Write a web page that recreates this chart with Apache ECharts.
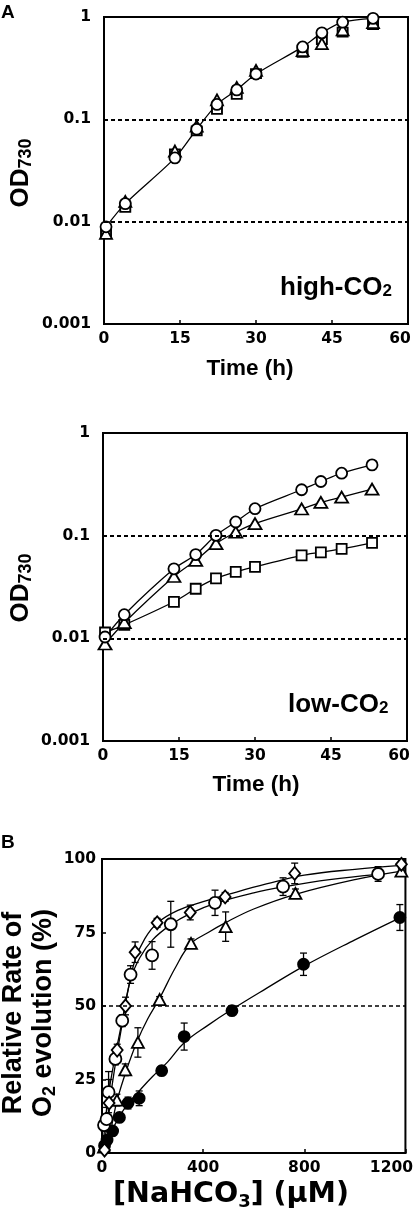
<!DOCTYPE html>
<html><head><meta charset="utf-8">
<script src="https://cdn.jsdelivr.net/npm/echarts@6/dist/echarts.min.js"></script>
<style>html,body{margin:0;padding:0;background:#fff}#c{width:416px;height:1217px}</style>
</head><body><div id="c"></div>
<script>
// ---------- Panel A data (OD730 vs time) ----------
const timeH = [0.4, 4.2, 14, 18.3, 22.3, 26.2, 30, 39.2, 43, 47.1, 53.1];
const highCircle   = [0.0089, 0.0150, 0.042, 0.080, 0.140, 0.194, 0.277, 0.51, 0.70, 0.89, 0.97];
const highTriangle = [0.0077, 0.0158, 0.049, 0.086, 0.155, 0.205, 0.300, 0.47, 0.55, 0.75, 0.88];
const highSquare   = [0.0077, 0.0138, 0.046, 0.077, 0.125, 0.175, 0.280, 0.45, 0.60, 0.71, 0.84];
const lowCircle    = [0.0103, 0.0170, 0.0475, 0.0654, 0.1007, 0.136, 0.183, 0.280, 0.337, 0.406, 0.489];
const lowTriangle  = [0.0088, 0.0142, 0.0400, 0.0575, 0.0836, 0.108, 0.131, 0.182, 0.211, 0.237, 0.284];
const lowSquare    = [0.0114, 0.0135, 0.0227, 0.0304, 0.0383, 0.0444, 0.0497, 0.0644, 0.0689, 0.0743, 0.085];
const odTicks      = [0.001, 0.01, 0.1, 1];
const odTickLabels = ['0.001', '0.01', '0.1', '1'];
const odRefLines   = [0.01, 0.1];

// ---------- Panel B data (relative O2 evolution vs [NaHCO3]) ----------
const diaX   = [10, 28, 60, 93, 131, 218, 349, 487, 762, 1184];
const diaY   = [1, 17, 35, 50, 68.3, 78.3, 81.8, 87.1, 95.1, 98.2];
const diaErr = [0, 8, 2, 3, 3.5, 1.5, 2.5, 1.5, 3.5, 1.5];
const ociX   = [8, 18, 26, 53, 80, 113, 198, 272, 447, 716, 1092];
const ociY   = [9.5, 11.5, 20.7, 32, 45, 60.7, 67.2, 77.8, 85.1, 90.6, 94.9];
const ociErr = [2, 4, 7, 2, 2, 3, 4.7, 7.8, 4.3, 3, 2.5];
const triX   = [8, 59, 92, 142, 228, 352, 489, 765, 1184];
const triY   = [2, 18, 28.3, 37.6, 52.2, 71.3, 77, 88.3, 95.9];
const triErr = [0, 2, 2, 5, 1, 1.5, 5, 1.5, 1.5];
const fciX   = [10, 20, 42, 69, 103, 147, 236, 325, 514, 797, 1178];
const fciY   = [2.5, 4.4, 7.5, 12.1, 17, 18.6, 28, 39.6, 48.4, 64.2, 80.1];
const fciErr = [0, 1, 1, 1.5, 2, 2.5, 1.5, 4.6, 1, 3.8, 4.4];
// fitted curves
const diaFitX = [5, 20, 40, 60, 80, 100, 130, 170, 220, 300, 400, 500, 650, 800, 1000, 1184];
const diaFitY = [0, 10, 23, 34, 44, 54, 65.5, 73, 78.3, 82.5, 85.5, 88, 91.5, 94.5, 96.5, 97.8];
const ociFitX = [3, 10, 26, 50, 80, 113, 150, 200, 270, 350, 450, 600, 716, 900, 1092];
const ociFitY = [0, 8, 20, 32, 45, 59, 66.5, 72.5, 77.5, 81.5, 85, 88.5, 90.5, 93, 94.8];
const triFitX = [15, 40, 60, 96, 139, 180, 227, 290, 349, 420, 485, 600, 765, 1000, 1184];
const triFitY = [0, 10, 18, 28, 38, 45.5, 52.5, 63, 71, 75, 78.2, 83, 88, 93, 95.9];
const fciFitX = [4, 20, 50, 100, 146, 200, 260, 325, 420, 513, 650, 797, 1000, 1178];
const fciFitY = [0, 4.5, 9.5, 16.5, 21, 26, 31, 37.5, 43.5, 48.8, 56, 63.5, 72.5, 80];
const rateRefLine = 50;

const AR = '"Liberation Sans", Arial, Helvetica, sans-serif';
const DV = '"DejaVu Sans", sans-serif';
const zip = (a, b) => a.map((v, i) => [v, b[i]]);

function odLabel(v) {
  let best = 0, bd = 1e9;
  odTicks.forEach((t, i) => { const d = Math.abs(Math.log10(t) - Math.log10(v)); if (d < bd) { bd = d; best = i; } });
  return odTickLabels[best];
}

function xAxisCfg(gi, min, max, interval, lastVal, lastPad) {
  return {
    type: 'value', gridIndex: gi, min, max, interval,
    axisLine: { show: true, lineStyle: { color: '#000', width: 2 } },
    axisTick: { show: true, inside: true, length: 4, lineStyle: { color: '#000', width: 1.5 } },
    splitLine: { show: false },
    axisLabel: {
      color: '#000', fontFamily: DV, fontWeight: 'bold', fontSize: 15.5, margin: 7,
      formatter: v => v === lastVal ? '{r|' + v + '}' : String(v),
      rich: { r: { fontFamily: DV, fontWeight: 'bold', fontSize: 15.5, color: '#000', padding: [0, lastPad, 0, 0] } }
    }
  };
}
function yLogCfg(gi) {
  return {
    type: 'log', logBase: 10, gridIndex: gi, min: 0.001, max: 1,
    axisLine: { show: true, lineStyle: { color: '#000', width: 2 } },
    axisTick: { show: false }, minorTick: { show: false },
    splitLine: { show: false },
    axisLabel: { color: '#000', fontFamily: DV, fontWeight: 'bold', fontSize: 15.5, margin: 13, formatter: odLabel }
  };
}

const openSym = (sym, size) => ({
  symbol: sym, symbolSize: size,
  itemStyle: { color: '#fff', borderColor: '#000', borderWidth: 1.8, opacity: 1 }
});

function odSeries(gi, ys, sym, size, withLine) {
  return Object.assign({
    type: 'line', xAxisIndex: gi, yAxisIndex: gi, data: zip(timeH, ys),
    smooth: 0.3, showSymbol: true, z: 3,
    lineStyle: { color: '#000', width: withLine ? 1.3 : 0, opacity: withLine ? 1 : 0 },
    animation: false
  }, openSym(sym, size));
}

function refLine(gi, val, w) {
  return {
    type: 'line', xAxisIndex: gi, yAxisIndex: gi, data: [], z: 1, animation: false,
    markLine: {
      silent: true, symbol: 'none', label: { show: false },
      lineStyle: { color: '#000', type: [4, 3], width: w },
      data: val.map(v => ({ yAxis: v }))
    }
  };
}

function errSeries(xs, ys, es) {
  const d = [];
  xs.forEach((x, i) => { if (es[i] > 0) d.push([x, ys[i] - es[i], ys[i] + es[i]]); });
  return {
    type: 'custom', xAxisIndex: 2, yAxisIndex: 2, z: 2, silent: true, animation: false, data: d,
    renderItem: (params, api) => {
      const lo = api.coord([api.value(0), api.value(1)]);
      const hi = api.coord([api.value(0), api.value(2)]);
      const w = 3.5, st = { stroke: '#000', lineWidth: 1.3 };
      return { type: 'group', children: [
        { type: 'line', shape: { x1: lo[0], y1: lo[1], x2: hi[0], y2: hi[1] }, style: st },
        { type: 'line', shape: { x1: hi[0] - w, y1: hi[1], x2: hi[0] + w, y2: hi[1] }, style: st },
        { type: 'line', shape: { x1: lo[0] - w, y1: lo[1], x2: lo[0] + w, y2: lo[1] }, style: st }
      ] };
    }
  };
}
function fitSeries(xs, ys) {
  return { type: 'line', xAxisIndex: 2, yAxisIndex: 2, data: zip(xs, ys), smooth: 0.4, showSymbol: false,
    symbol: 'none', z: 2, lineStyle: { color: '#000', width: 1.3 }, animation: false };
}
function scat(xs, ys, sym, size, filled) {
  return { type: 'scatter', xAxisIndex: 2, yAxisIndex: 2, data: zip(xs, ys), z: 4, animation: false,
    symbol: sym, symbolSize: size,
    itemStyle: { color: filled ? '#000' : '#fff', borderColor: '#000', borderWidth: 1.8, opacity: 1 } };
}

const gridBox = { show: true, borderColor: '#000', borderWidth: 2, backgroundColor: 'transparent' };
const txt = (family, size) => ({ fontFamily: family, fontSize: size, fontWeight: 'bold', fill: '#000' });

const option = {
  animation: false,
  backgroundColor: '#fff',
  grid: [
    Object.assign({ left: 104, top: 17, width: 304, height: 307 }, gridBox),
    Object.assign({ left: 103, top: 433, width: 304, height: 308 }, gridBox),
    Object.assign({ left: 102, top: 859, width: 306, height: 294 }, gridBox)
  ],
  xAxis: [
    xAxisCfg(0, 0, 60, 15, 60, 16),
    xAxisCfg(1, 0, 60, 15, 60, 16),
    xAxisCfg(2, 0, 1200, 400, 1200, 28)
  ],
  yAxis: [
    yLogCfg(0), yLogCfg(1),
    {
      type: 'value', gridIndex: 2, min: 0, max: 100, interval: 25,
      axisLine: { show: true, lineStyle: { color: '#000', width: 2 } },
      axisTick: { show: true, inside: true, length: 4, lineStyle: { color: '#000', width: 1.5 } },
      splitLine: { show: false },
      axisLabel: { color: '#000', fontFamily: DV, fontWeight: 'bold', fontSize: 15.5, margin: 6 }
    }
  ],
  series: [
    refLine(0, odRefLines, 2),
    odSeries(0, highSquare, 'rect', [10, 9], false),
    odSeries(0, highTriangle, 'triangle', [12, 11], false),
    odSeries(0, highCircle, 'circle', 11, true),
    refLine(1, odRefLines, 2),
    odSeries(1, lowSquare, 'rect', [10, 10], true),
    odSeries(1, lowTriangle, 'triangle', [13, 11], true),
    odSeries(1, lowCircle, 'circle', 11, true),
    refLine(2, [rateRefLine], 1.5),
    fitSeries(diaFitX, diaFitY), fitSeries(ociFitX, ociFitY), fitSeries(triFitX, triFitY), fitSeries(fciFitX, fciFitY),
    errSeries(diaX, diaY, diaErr), errSeries(ociX, ociY, ociErr), errSeries(triX, triY, triErr), errSeries(fciX, fciY, fciErr),
    scat(fciX, fciY, 'circle', 11, true),
    scat(triX, triY, 'triangle', [12, 11], false),
    scat(ociX, ociY, 'circle', 12, false),
    scat(diaX, diaY, 'diamond', [11, 13], false)
  ],
  graphic: [
    { type: 'text', x: 1, y: 13, style: Object.assign({ text: 'A', verticalAlign: 'middle' }, txt(AR, 19)) },
    { type: 'text', x: 1, y: 843, style: Object.assign({ text: 'B', verticalAlign: 'middle' }, txt(AR, 19)) },
    { type: 'text', x: 21, y: 173, rotation: Math.PI / 2, style: {
      text: '{m|OD}{s|730}', align: 'center', verticalAlign: 'middle', fill: '#000',
      rich: { m: txt(AR, 26), s: Object.assign({ padding: [10, 0, 0, 0] }, txt(AR, 18)) } } },
    { type: 'text', x: 21, y: 588, rotation: Math.PI / 2, style: {
      text: '{m|OD}{s|730}', align: 'center', verticalAlign: 'middle', fill: '#000',
      rich: { m: txt(AR, 26), s: Object.assign({ padding: [10, 0, 0, 0] }, txt(AR, 18)) } } },
    { type: 'text', x: 250, y: 369, style: Object.assign({ text: 'Time (h)', align: 'center', verticalAlign: 'middle' }, txt(AR, 22.5)) },
    { type: 'text', x: 256, y: 785, style: Object.assign({ text: 'Time (h)', align: 'center', verticalAlign: 'middle' }, txt(AR, 22.5)) },
    { type: 'text', x: 280, y: 288, style: {
      text: '{m|high-CO}{s|2}', align: 'left', verticalAlign: 'middle', fill: '#000',
      rich: { m: txt(AR, 26), s: Object.assign({ padding: [6, 0, 0, 0] }, txt(AR, 17)) } } },
    { type: 'text', x: 288, y: 705, style: {
      text: '{m|low-CO}{s|2}', align: 'left', verticalAlign: 'middle', fill: '#000',
      rich: { m: txt(AR, 26), s: Object.assign({ padding: [6, 0, 0, 0] }, txt(AR, 17)) } } },
    { type: 'text', x: 231, y: 1195, style: {
      text: '{m|[NaHCO}{s|3}{m|] (μM)}', align: 'center', verticalAlign: 'middle', fill: '#000',
      rich: { m: txt(DV, 28.5), s: Object.assign({ padding: [14, 0, 0, 0] }, txt(DV, 18)) } } },
    { type: 'text', x: 14, y: 1013, rotation: Math.PI / 2, style: Object.assign({
      text: 'Relative Rate of', align: 'center', verticalAlign: 'middle' }, txt(AR, 27)) },
    { type: 'text', x: 44, y: 1013, rotation: Math.PI / 2, style: {
      text: '{m|O}{s|2}{m| evolution (%)}', align: 'center', verticalAlign: 'middle', fill: '#000',
      rich: { m: txt(AR, 27), s: Object.assign({ padding: [12, 0, 0, 0] }, txt(AR, 18)) } } }
  ]
};

const chart = echarts.init(document.getElementById('c'), null, { renderer: 'canvas' });
chart.setOption(option);
</script>
</body></html>
